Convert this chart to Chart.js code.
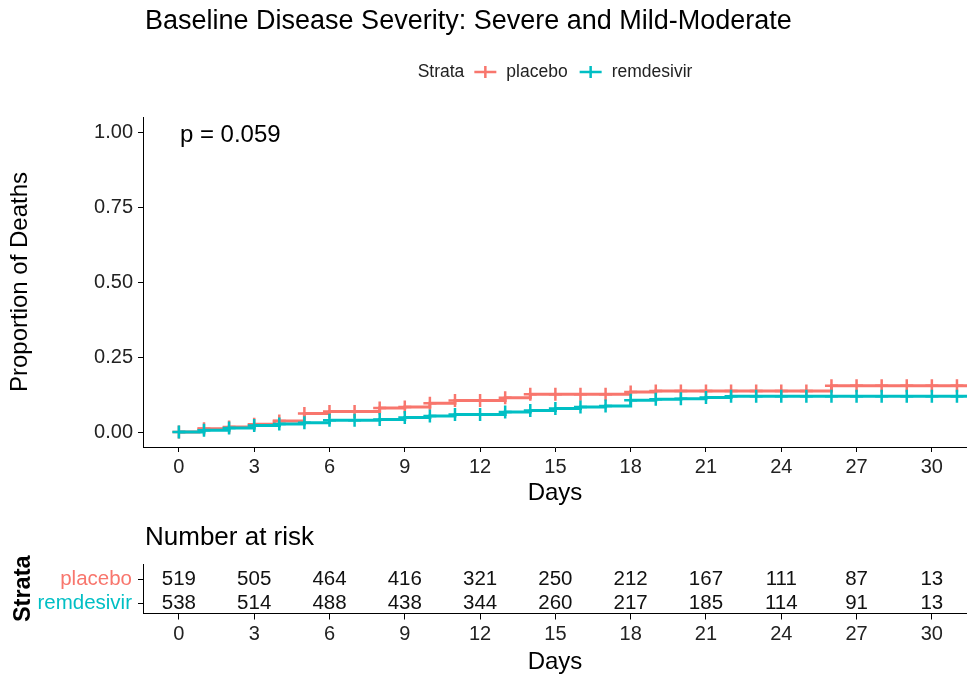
<!DOCTYPE html>
<html>
<head>
<meta charset="utf-8">
<script src="https://cdn.jsdelivr.net/npm/chart.js@4"></script>
<style>
  html, body { margin: 0; padding: 0; background: #fff; overflow: hidden; }
  #wrap { position: relative; width: 967px; height: 679px; }
  #kmChart { position: absolute; left: 0; top: 0; }
  #riskChart { position: absolute; left: 0; top: 510px; }
</style>
</head>
<body>
<div id="wrap">
  <canvas id="kmChart" width="967" height="510"></canvas>
  <canvas id="riskChart" width="967" height="169"></canvas>
</div>
<script>
const FONT = "'Liberation Sans', Arial, sans-serif";
const RED = '#F8766D';
const TEAL = '#00BFC4';

const strata = ['placebo', 'remdesivir'];

// cumulative proportion of deaths, value holds from each time until the next
const placeboTimes  = [0, 0.8, 2, 3, 3.8, 5, 6, 8, 9, 10, 11, 13, 14, 18, 19, 26, 32];
const placeboDeaths = [0, 0.011, 0.017, 0.026, 0.037, 0.062, 0.068, 0.080, 0.083, 0.096, 0.105, 0.114, 0.126, 0.133, 0.137, 0.154, 0.154];
const remTimes  = [0, 1, 2, 3, 4, 5, 6, 8, 9, 10, 11, 13, 14, 15, 16, 17, 18, 19, 20, 21, 22, 32];
const remDeaths = [0, 0.006, 0.013, 0.022, 0.027, 0.031, 0.039, 0.042, 0.048, 0.053, 0.058, 0.067, 0.072, 0.078, 0.083, 0.087, 0.106, 0.109, 0.111, 0.115, 0.119, 0.119];

// censoring marks
const censorDays = [0, 1, 2, 3, 4, 5, 6, 7, 8, 9, 10, 11, 12, 13, 14, 15, 16, 17, 18, 19, 20, 21, 22, 23, 24, 25, 26, 27, 28, 29, 30, 31];

// number at risk table
const riskDays = [0, 3, 6, 9, 12, 15, 18, 21, 24, 27, 30];
const placeboRisk = [519, 505, 464, 416, 321, 250, 212, 167, 111, 87, 13];
const remRisk     = [538, 514, 488, 438, 344, 260, 217, 185, 114, 91, 13];

const xTicks = [0, 3, 6, 9, 12, 15, 18, 21, 24, 27, 30];
const yTicks = [0, 0.25, 0.5, 0.75, 1];
const pText = 'p = 0.059';

function stepValue(times, vals, t) {
  let v = vals[0];
  for (let i = 0; i < times.length; i++) if (times[i] <= t) v = vals[i];
  return v;
}
const curve = (times, vals) => times.map((t, i) => ({ x: t, y: vals[i] }));
const marks = (times, vals) => censorDays.map(d => ({ x: d, y: stepValue(times, vals, d) }));

const lineSet = (label, color, times, vals, order) => ({
  label, data: curve(times, vals), borderColor: color, backgroundColor: color,
  borderWidth: 3, stepped: true, pointRadius: 0, order
});
const markSet = (label, color, times, vals, order) => ({
  label, data: marks(times, vals), borderColor: color, backgroundColor: color,
  showLine: false, pointStyle: 'cross', pointRadius: 6.5, borderWidth: 2.5, order
});

const axisGrid = { display: true, drawOnChartArea: false, drawTicks: true, tickLength: 5, color: '#000' };

// title, legend and p-value
const kmText = {
  id: 'kmText',
  afterDraw(chart) {
    const ctx = chart.ctx;
    const area = chart.chartArea;
    ctx.save();
    ctx.textBaseline = 'middle';
    ctx.fillStyle = '#000';
    ctx.font = '27px ' + FONT;
    ctx.textAlign = 'left';
    ctx.fillText('Baseline Disease Severity: Severe and Mild-Moderate', 145, 22);

    // legend, centred on the panel
    ctx.font = '17.5px ' + FONT;
    const colors = [RED, TEAL];
    const sym = 22;
    const parts = [{ t: 'Strata', gap: 10 }];
    strata.forEach((s, i) => {
      parts.push({ sym: colors[i], gap: 10 });
      parts.push({ t: s, gap: 12 });
    });
    let total = 0;
    parts.forEach((p, i) => {
      total += p.t ? ctx.measureText(p.t).width : sym;
      if (i < parts.length - 1) total += p.gap;
    });
    let x = (area.left + area.right) / 2 - total / 2;
    const ly = 72;
    parts.forEach(p => {
      if (p.t) {
        ctx.fillStyle = '#222';
        ctx.fillText(p.t, x, ly);
        x += ctx.measureText(p.t).width + p.gap;
      } else {
        ctx.strokeStyle = p.sym;
        ctx.lineWidth = 2.5;
        ctx.beginPath();
        ctx.moveTo(x, ly); ctx.lineTo(x + sym, ly);
        ctx.moveTo(x + sym / 2, ly - 6); ctx.lineTo(x + sym / 2, ly + 6);
        ctx.stroke();
        x += sym + p.gap;
      }
    });

    const xs = chart.scales.x, ys = chart.scales.y;
    ctx.fillStyle = '#000';
    ctx.font = '24px ' + FONT;
    ctx.fillText(pText, xs.getPixelForValue(0) + 1, ys.getPixelForValue(1) + 3);
    ctx.restore();
  }
};

new Chart(document.getElementById('kmChart'), {
  type: 'line',
  data: {
    datasets: [
      markSet('remdesivir', TEAL, remTimes, remDeaths, 0),
      lineSet('remdesivir', TEAL, remTimes, remDeaths, 1),
      markSet('placebo', RED, placeboTimes, placeboDeaths, 2),
      lineSet('placebo', RED, placeboTimes, placeboDeaths, 3)
    ]
  },
  options: {
    responsive: false,
    animation: false,
    layout: { autoPadding: false, padding: { top: 117, right: 0, bottom: 0, left: 0 } },
    plugins: { legend: { display: false }, tooltip: { enabled: false } },
    scales: {
      x: {
        type: 'linear', min: -1.43, max: 31.4,
        afterBuildTicks: s => { s.ticks = xTicks.map(v => ({ value: v })); },
        afterFit: s => { s.height = 63; },
        grid: axisGrid,
        border: { display: true, color: '#000', width: 1 },
        ticks: { font: { family: FONT, size: 20 }, color: '#222', padding: 3, maxRotation: 0, autoSkip: false },
        title: { display: true, text: 'Days', color: '#000', font: { family: FONT, size: 24 }, padding: { top: 0, bottom: 2 } }
      },
      y: {
        type: 'linear', min: -0.05, max: 1.05,
        afterBuildTicks: s => { s.ticks = yTicks.map(v => ({ value: v })); },
        afterFit: s => { s.width = 143; },
        grid: axisGrid,
        border: { display: true, color: '#000', width: 1 },
        ticks: { font: { family: FONT, size: 20 }, color: '#222', padding: 5, callback: v => v.toFixed(2) },
        title: { display: true, text: 'Proportion of Deaths', color: '#000', font: { family: FONT, size: 24 }, padding: { top: 6, bottom: 0 } }
      }
    }
  },
  plugins: [kmText]
});

// risk table: counts drawn at each day / stratum position
const riskCounts = [placeboRisk, remRisk];
const riskText = {
  id: 'riskText',
  afterDraw(chart) {
    const ctx = chart.ctx;
    const xs = chart.scales.x, ys = chart.scales.y;
    ctx.save();
    ctx.textBaseline = 'middle';
    ctx.fillStyle = '#000';
    ctx.textAlign = 'left';
    ctx.font = '26px ' + FONT;
    ctx.fillText('Number at risk', 145, 28);
    ctx.textAlign = 'center';
    ctx.fillStyle = '#111';
    ctx.font = '20.5px ' + FONT;
    chart.data.datasets.forEach((ds, i) => {
      ds.data.forEach((p, j) => {
        ctx.fillText(String(riskCounts[i][j]), xs.getPixelForValue(p.x), ys.getPixelForValue(p.y));
      });
    });
    ctx.restore();
  }
};

new Chart(document.getElementById('riskChart'), {
  type: 'scatter',
  data: {
    datasets: strata.map((s, i) => ({
      label: s,
      data: riskDays.map(d => ({ x: d, y: strata.length - i })),
      pointRadius: 0
    }))
  },
  options: {
    responsive: false,
    animation: false,
    layout: { autoPadding: false, padding: { top: 54, right: 0, bottom: 0, left: 0 } },
    plugins: { legend: { display: false }, tooltip: { enabled: false } },
    scales: {
      x: {
        type: 'linear', min: -1.43, max: 31.4,
        afterBuildTicks: s => { s.ticks = xTicks.map(v => ({ value: v })); },
        afterFit: s => { s.height = 65.5; },
        grid: { ...axisGrid, tickLength: 6 },
        border: { display: true, color: '#000', width: 1 },
        ticks: { font: { family: FONT, size: 20 }, color: '#222', padding: 3, maxRotation: 0, autoSkip: false },
        title: { display: true, text: 'Days', color: '#000', font: { family: FONT, size: 24 }, padding: { top: 0, bottom: 2 } }
      },
      y: {
        type: 'linear', min: 0.5625, max: 2.625,
        afterBuildTicks: s => { s.ticks = strata.map((_, i) => ({ value: strata.length - i })); },
        afterFit: s => { s.width = 143; },
        grid: axisGrid,
        border: { display: true, color: '#000', width: 1 },
        ticks: {
          font: { family: FONT, size: 20.5 }, padding: 6,
          color: c => (c.tick ? [RED, TEAL][strata.length - c.tick.value] : '#000'),
          callback: v => strata[strata.length - v]
        },
        title: { display: true, text: 'Strata', color: '#000', font: { family: FONT, size: 23.5, weight: 'bold' }, padding: { top: 9, bottom: 0 } }
      }
    }
  },
  plugins: [riskText]
});
</script>
</body>
</html>
